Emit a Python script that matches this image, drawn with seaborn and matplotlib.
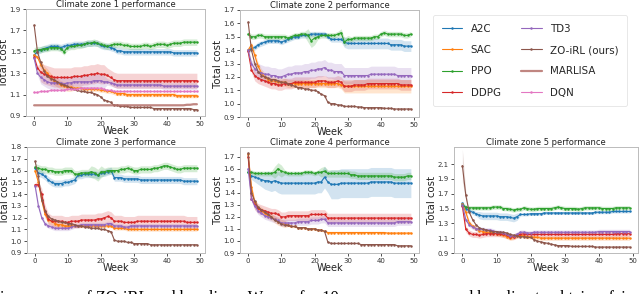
import numpy as np
import pandas as pd
import seaborn as sns
import matplotlib.pyplot as plt

weeks = list(range(50))
methods = ["A2C", "SAC", "PPO", "DDPG", "TD3", "ZO-iRL (ours)", "MARLISA", "DQN"]
colors = ["#1f77b4", "#ff7f0e", "#2ca02c", "#d62728", "#9467bd", "#8c564b", "#b5716b", "#e377c2"]

# ---- climate zone 1 ----
z1_a2c = [1.47, 1.50, 1.52, 1.53, 1.54, 1.55, 1.55, 1.55, 1.54, 1.55,
          1.56, 1.56, 1.57, 1.57, 1.57, 1.57, 1.58, 1.58, 1.58, 1.58,
          1.56, 1.55, 1.55, 1.54, 1.53, 1.51, 1.51, 1.50, 1.50, 1.50,
          1.50, 1.50, 1.50, 1.50, 1.50, 1.50, 1.50, 1.50, 1.50, 1.50,
          1.50, 1.50, 1.49, 1.49, 1.49, 1.49, 1.49, 1.49, 1.49, 1.49]
z1_sac = [1.47, 1.45, 1.38, 1.33, 1.30, 1.26, 1.23, 1.21, 1.19, 1.18,
          1.17, 1.17, 1.16, 1.16, 1.16, 1.15, 1.15, 1.15, 1.15, 1.15,
          1.14, 1.14, 1.13, 1.13, 1.12, 1.11, 1.11, 1.11, 1.10, 1.10,
          1.10, 1.10, 1.10, 1.10, 1.10, 1.10, 1.10, 1.10, 1.10, 1.10,
          1.10, 1.10, 1.10, 1.09, 1.09, 1.09, 1.09, 1.09, 1.09, 1.09]
z1_ppo = [1.51, 1.52, 1.52, 1.53, 1.53, 1.54, 1.54, 1.54, 1.53, 1.50,
          1.54, 1.55, 1.55, 1.56, 1.56, 1.57, 1.58, 1.58, 1.59, 1.58,
          1.57, 1.56, 1.55, 1.56, 1.57, 1.57, 1.57, 1.56, 1.56, 1.55,
          1.55, 1.55, 1.55, 1.56, 1.56, 1.55, 1.56, 1.57, 1.57, 1.57,
          1.56, 1.57, 1.58, 1.58, 1.58, 1.59, 1.59, 1.59, 1.59, 1.59]
z1_ddpg = [1.45, 1.35, 1.31, 1.29, 1.28, 1.27, 1.26, 1.26, 1.26, 1.26,
           1.26, 1.26, 1.27, 1.27, 1.27, 1.28, 1.28, 1.29, 1.29, 1.30,
           1.29, 1.29, 1.28, 1.26, 1.24, 1.23, 1.23, 1.23, 1.23, 1.23,
           1.23, 1.23, 1.23, 1.23, 1.23, 1.23, 1.23, 1.23, 1.23, 1.23,
           1.23, 1.23, 1.23, 1.23, 1.23, 1.23, 1.23, 1.23, 1.23, 1.23]
z1_td3 = [1.44, 1.30, 1.26, 1.24, 1.22, 1.21, 1.21, 1.21, 1.21, 1.20,
          1.21, 1.21, 1.22, 1.22, 1.22, 1.22, 1.22, 1.22, 1.23, 1.23,
          1.23, 1.22, 1.22, 1.21, 1.20, 1.19, 1.19, 1.19, 1.19, 1.19,
          1.19, 1.19, 1.19, 1.19, 1.19, 1.19, 1.19, 1.19, 1.19, 1.18,
          1.18, 1.18, 1.18, 1.18, 1.18, 1.18, 1.18, 1.18, 1.18, 1.18]
z1_zo = [1.75, 1.50, 1.40, 1.32, 1.27, 1.25, 1.24, 1.22, 1.20, 1.19,
         1.18, 1.16, 1.15, 1.14, 1.13, 1.13, 1.12, 1.12, 1.11, 1.10,
         1.08, 1.05, 1.04, 1.03, 1.00, 1.00, 0.99, 0.99, 0.99, 0.98,
         0.98, 0.98, 0.98, 0.98, 0.98, 0.98, 0.97, 0.97, 0.97, 0.97,
         0.97, 0.97, 0.97, 0.97, 0.97, 0.97, 0.97, 0.97, 0.96, 0.96]
z1_marlisa = [1.00, 1.00, 1.00, 1.00, 1.00, 1.00, 1.00, 1.00, 1.00, 1.00,
              1.00, 1.00, 1.00, 1.00, 1.00, 1.00, 1.00, 1.00, 1.00, 1.00,
              1.00, 1.00, 1.00, 1.00, 1.00, 1.00, 1.00, 1.00, 1.00, 1.00,
              1.00, 1.00, 1.00, 1.00, 1.00, 1.00, 1.00, 1.00, 1.00, 1.00,
              1.00, 1.00, 1.00, 1.00, 1.00, 1.00, 1.005, 1.005, 1.01, 1.01]
z1_dqn = [1.12, 1.12, 1.13, 1.13, 1.13, 1.14, 1.14, 1.14, 1.14, 1.14,
          1.15, 1.15, 1.15, 1.15, 1.16, 1.16, 1.16, 1.16, 1.16, 1.16,
          1.16, 1.15, 1.14, 1.14, 1.13, 1.13, 1.13, 1.13, 1.13, 1.13,
          1.13, 1.13, 1.13, 1.13, 1.13, 1.13, 1.13, 1.13, 1.13, 1.13,
          1.13, 1.13, 1.13, 1.13, 1.13, 1.13, 1.13, 1.13, 1.13, 1.13]
z1_a2c_sd = [0.03] * 50
z1_sac_sd = [0.01] * 2 + [0.04] * 10 + [0.02] * 38
z1_ppo_sd = [0.03] * 50
z1_ddpg_sd = [0.02] * 2 + [0.09] * 20 + [0.07] * 28
z1_td3_sd = [0.02] * 2 + [0.06] * 20 + [0.03] * 28
z1_zo_sd = [0.005] * 50
z1_marlisa_sd = [0.0] * 50
z1_dqn_sd = [0.008] * 50

# ---- climate zone 2 ----
z2_a2c = [1.40, 1.41, 1.42, 1.44, 1.45, 1.46, 1.47, 1.47, 1.47, 1.47,
          1.46, 1.47, 1.48, 1.49, 1.50, 1.50, 1.51, 1.51, 1.51, 1.52,
          1.52, 1.52, 1.52, 1.52, 1.50, 1.48, 1.48, 1.48, 1.48, 1.46,
          1.45, 1.45, 1.45, 1.45, 1.45, 1.45, 1.45, 1.45, 1.45, 1.45,
          1.45, 1.45, 1.45, 1.44, 1.44, 1.44, 1.44, 1.43, 1.43, 1.43]
z2_sac = [1.40, 1.44, 1.36, 1.28, 1.23, 1.20, 1.18, 1.17, 1.17, 1.16,
          1.16, 1.16, 1.15, 1.15, 1.15, 1.15, 1.15, 1.15, 1.15, 1.15,
          1.15, 1.15, 1.15, 1.15, 1.15, 1.15, 1.15, 1.15, 1.14, 1.13,
          1.13, 1.13, 1.13, 1.13, 1.13, 1.13, 1.13, 1.13, 1.13, 1.13,
          1.13, 1.13, 1.13, 1.13, 1.13, 1.13, 1.13, 1.13, 1.13, 1.13]
z2_ppo = [1.52, 1.50, 1.50, 1.51, 1.51, 1.50, 1.50, 1.50, 1.50, 1.50,
          1.50, 1.50, 1.49, 1.50, 1.51, 1.51, 1.52, 1.52, 1.51, 1.47,
          1.49, 1.50, 1.51, 1.51, 1.51, 1.51, 1.51, 1.52, 1.53, 1.46,
          1.48, 1.48, 1.49, 1.49, 1.49, 1.49, 1.49, 1.49, 1.50, 1.50,
          1.52, 1.53, 1.52, 1.52, 1.52, 1.52, 1.52, 1.51, 1.51, 1.52]
z2_ddpg = [1.39, 1.25, 1.21, 1.19, 1.18, 1.17, 1.16, 1.15, 1.15, 1.14,
           1.14, 1.15, 1.15, 1.15, 1.16, 1.16, 1.16, 1.16, 1.16, 1.16,
           1.16, 1.17, 1.17, 1.17, 1.16, 1.16, 1.16, 1.17, 1.16, 1.13,
           1.13, 1.13, 1.14, 1.14, 1.14, 1.14, 1.15, 1.15, 1.15, 1.15,
           1.15, 1.15, 1.15, 1.15, 1.15, 1.15, 1.14, 1.14, 1.14, 1.14]
z2_td3 = [1.40, 1.30, 1.26, 1.24, 1.23, 1.22, 1.22, 1.21, 1.21, 1.20,
          1.20, 1.21, 1.22, 1.22, 1.23, 1.23, 1.23, 1.24, 1.24, 1.25,
          1.25, 1.26, 1.26, 1.27, 1.25, 1.25, 1.24, 1.24, 1.24, 1.21,
          1.21, 1.21, 1.21, 1.21, 1.21, 1.21, 1.21, 1.22, 1.22, 1.22,
          1.22, 1.22, 1.22, 1.22, 1.22, 1.21, 1.21, 1.21, 1.21, 1.21]
z2_zo = [1.61, 1.40, 1.30, 1.24, 1.21, 1.20, 1.19, 1.18, 1.18, 1.17,
         1.16, 1.16, 1.15, 1.14, 1.13, 1.12, 1.12, 1.11, 1.11, 1.10,
         1.10, 1.09, 1.07, 1.06, 1.01, 1.00, 1.00, 0.99, 0.99, 0.98,
         0.98, 0.98, 0.98, 0.975, 0.975, 0.97, 0.97, 0.97, 0.97, 0.97,
         0.97, 0.965, 0.965, 0.965, 0.96, 0.96, 0.96, 0.96, 0.96, 0.96]
z2_a2c_sd = [0.02] * 29 + [0.04] * 21
z2_sac_sd = [0.02] * 2 + [0.03] * 27 + [0.05] * 21
z2_ppo_sd = [0.02] * 18 + [0.05] * 3 + [0.02] * 7 + [0.03] * 3 + [0.02] * 19
z2_ddpg_sd = [0.02] * 2 + [0.04] * 48
z2_td3_sd = [0.02] * 2 + [0.06] * 48
z2_zo_sd = [0.005] * 50

# ---- climate zone 3 ----
z3_a2c = [1.62, 1.58, 1.57, 1.55, 1.52, 1.50, 1.49, 1.49, 1.49, 1.50,
          1.50, 1.51, 1.52, 1.56, 1.56, 1.57, 1.57, 1.57, 1.57, 1.56,
          1.58, 1.58, 1.59, 1.60, 1.54, 1.54, 1.54, 1.53, 1.53, 1.53,
          1.53, 1.53, 1.52, 1.52, 1.52, 1.52, 1.52, 1.52, 1.52, 1.52,
          1.52, 1.52, 1.52, 1.52, 1.52, 1.51, 1.51, 1.51, 1.51, 1.51]
z3_sac = [1.60, 1.50, 1.35, 1.23, 1.18, 1.17, 1.15, 1.14, 1.14, 1.13,
          1.13, 1.13, 1.13, 1.13, 1.13, 1.13, 1.13, 1.13, 1.13, 1.13,
          1.13, 1.13, 1.13, 1.13, 1.11, 1.11, 1.11, 1.11, 1.10, 1.10,
          1.10, 1.10, 1.10, 1.10, 1.10, 1.10, 1.10, 1.10, 1.10, 1.10,
          1.10, 1.10, 1.10, 1.10, 1.10, 1.10, 1.10, 1.10, 1.10, 1.10]
z3_ppo = [1.63, 1.62, 1.61, 1.61, 1.60, 1.60, 1.59, 1.59, 1.59, 1.60,
          1.60, 1.60, 1.57, 1.57, 1.58, 1.58, 1.58, 1.59, 1.58, 1.56,
          1.59, 1.59, 1.60, 1.60, 1.60, 1.60, 1.61, 1.61, 1.62, 1.61,
          1.60, 1.60, 1.61, 1.61, 1.61, 1.61, 1.62, 1.62, 1.63, 1.64,
          1.64, 1.63, 1.62, 1.61, 1.61, 1.62, 1.62, 1.62, 1.62, 1.62]
z3_ddpg = [1.48, 1.48, 1.40, 1.26, 1.19, 1.17, 1.17, 1.17, 1.17, 1.16,
           1.16, 1.17, 1.17, 1.17, 1.18, 1.18, 1.18, 1.18, 1.18, 1.19,
           1.19, 1.20, 1.21, 1.20, 1.17, 1.17, 1.17, 1.16, 1.16, 1.16,
           1.16, 1.17, 1.17, 1.17, 1.17, 1.17, 1.17, 1.17, 1.17, 1.17,
           1.17, 1.17, 1.17, 1.17, 1.17, 1.17, 1.16, 1.16, 1.16, 1.16]
z3_td3 = [1.47, 1.30, 1.20, 1.15, 1.13, 1.12, 1.11, 1.11, 1.11, 1.11,
          1.11, 1.12, 1.13, 1.13, 1.14, 1.14, 1.14, 1.14, 1.14, 1.14,
          1.14, 1.14, 1.15, 1.15, 1.13, 1.13, 1.13, 1.12, 1.12, 1.13,
          1.13, 1.13, 1.13, 1.13, 1.13, 1.13, 1.13, 1.13, 1.13, 1.13,
          1.13, 1.13, 1.13, 1.13, 1.13, 1.13, 1.13, 1.13, 1.13, 1.13]
z3_zo = [1.68, 1.55, 1.35, 1.26, 1.21, 1.19, 1.18, 1.17, 1.16, 1.16,
         1.15, 1.15, 1.14, 1.13, 1.13, 1.12, 1.12, 1.11, 1.11, 1.11,
         1.10, 1.10, 1.09, 1.08, 1.01, 1.00, 1.00, 1.00, 0.99, 0.99,
         0.98, 0.98, 0.98, 0.98, 0.98, 0.97, 0.97, 0.97, 0.97, 0.97,
         0.97, 0.97, 0.97, 0.97, 0.97, 0.97, 0.97, 0.97, 0.97, 0.97]
z3_a2c_sd = [0.03] * 50
z3_sac_sd = [0.02] * 2 + [0.03] * 8 + [0.015] * 40
z3_ppo_sd = [0.03] * 17 + [0.05] * 4 + [0.03] * 29
z3_ddpg_sd = [0.02] * 2 + [0.05] * 48
z3_td3_sd = [0.02] * 50
z3_zo_sd = [0.005] * 50

# ---- climate zone 4 ----
z4_a2c = [1.57, 1.54, 1.53, 1.52, 1.51, 1.50, 1.50, 1.49, 1.50, 1.49,
          1.48, 1.48, 1.48, 1.48, 1.48, 1.48, 1.48, 1.48, 1.48, 1.48,
          1.48, 1.49, 1.49, 1.53, 1.49, 1.47, 1.47, 1.47, 1.48, 1.48,
          1.48, 1.48, 1.48, 1.48, 1.48, 1.48, 1.48, 1.49, 1.49, 1.49,
          1.49, 1.49, 1.49, 1.49, 1.48, 1.48, 1.48, 1.48, 1.48, 1.48]
z4_sac = [1.72, 1.45, 1.32, 1.27, 1.25, 1.23, 1.21, 1.20, 1.18, 1.16,
          1.15, 1.14, 1.13, 1.12, 1.12, 1.11, 1.11, 1.11, 1.10, 1.10,
          1.10, 1.09, 1.09, 1.08, 1.07, 1.07, 1.07, 1.07, 1.07, 1.07,
          1.07, 1.07, 1.07, 1.07, 1.07, 1.07, 1.07, 1.07, 1.07, 1.07,
          1.07, 1.07, 1.065, 1.065, 1.065, 1.065, 1.065, 1.065, 1.065, 1.065]
z4_ppo = [1.57, 1.57, 1.56, 1.56, 1.56, 1.56, 1.56, 1.56, 1.57, 1.60,
          1.58, 1.57, 1.56, 1.56, 1.56, 1.56, 1.56, 1.57, 1.57, 1.57,
          1.56, 1.57, 1.57, 1.58, 1.56, 1.56, 1.56, 1.56, 1.56, 1.56,
          1.56, 1.55, 1.55, 1.54, 1.54, 1.54, 1.54, 1.54, 1.54, 1.54,
          1.54, 1.54, 1.54, 1.54, 1.53, 1.53, 1.53, 1.53, 1.54, 1.54]
z4_ddpg = [1.70, 1.35, 1.30, 1.27, 1.26, 1.25, 1.24, 1.23, 1.23, 1.22,
           1.20, 1.20, 1.21, 1.21, 1.21, 1.21, 1.21, 1.21, 1.21, 1.22,
           1.22, 1.22, 1.22, 1.22, 1.19, 1.19, 1.19, 1.19, 1.19, 1.19,
           1.19, 1.19, 1.19, 1.19, 1.19, 1.19, 1.19, 1.19, 1.19, 1.19,
           1.19, 1.19, 1.19, 1.19, 1.19, 1.19, 1.19, 1.19, 1.19, 1.19]
z4_td3 = [1.60, 1.35, 1.29, 1.25, 1.23, 1.21, 1.20, 1.19, 1.18, 1.17,
          1.15, 1.15, 1.15, 1.15, 1.15, 1.16, 1.16, 1.16, 1.16, 1.17,
          1.17, 1.17, 1.18, 1.18, 1.15, 1.15, 1.15, 1.15, 1.15, 1.15,
          1.15, 1.15, 1.15, 1.15, 1.15, 1.15, 1.15, 1.15, 1.15, 1.15,
          1.15, 1.15, 1.15, 1.15, 1.15, 1.16, 1.16, 1.16, 1.16, 1.16]
z4_zo = [1.73, 1.40, 1.33, 1.28, 1.26, 1.24, 1.22, 1.20, 1.17, 1.16,
         1.14, 1.13, 1.13, 1.12, 1.12, 1.11, 1.11, 1.11, 1.10, 1.10,
         1.10, 1.09, 1.09, 1.08, 0.99, 0.98, 0.98, 0.98, 0.98, 0.98,
         0.98, 0.98, 0.98, 0.98, 0.97, 0.97, 0.97, 0.97, 0.97, 0.97,
         0.97, 0.97, 0.97, 0.97, 0.97, 0.96, 0.96, 0.96, 0.96, 0.96]
z4_a2c_sd = [0.02, 0.03, 0.04, 0.05, 0.06, 0.07, 0.08, 0.08, 0.08, 0.09] + [0.09] * 15 + [0.12] * 25
z4_sac_sd = [0.02] * 2 + [0.03] * 10 + [0.01] * 38
z4_ppo_sd = [0.02] * 8 + [0.05] * 3 + [0.02] * 11 + [0.04] * 2 + [0.03] * 26
z4_ddpg_sd = [0.02] * 2 + [0.04] * 48
z4_td3_sd = [0.02] * 2 + [0.03] * 48
z4_zo_sd = [0.02] * 2 + [0.005] * 48

# ---- climate zone 5 ----
z5_a2c = [1.57, 1.50, 1.47, 1.45, 1.43, 1.41, 1.40, 1.40, 1.40, 1.40,
          1.40, 1.39, 1.39, 1.39, 1.38, 1.37, 1.39, 1.42, 1.42, 1.42,
          1.43, 1.43, 1.43, 1.43, 1.44, 1.44, 1.44, 1.44, 1.44, 1.44,
          1.44, 1.44, 1.44, 1.44, 1.44, 1.44, 1.44, 1.44, 1.44, 1.45,
          1.45, 1.45, 1.45, 1.45, 1.46, 1.46, 1.46, 1.46, 1.46, 1.46]
z5_sac = [1.56, 1.45, 1.31, 1.26, 1.23, 1.20, 1.19, 1.18, 1.18, 1.17,
          1.16, 1.15, 1.14, 1.12, 1.10, 1.11, 1.13, 1.14, 1.13, 1.12,
          1.12, 1.11, 1.11, 1.10, 1.10, 1.10, 1.10, 1.10, 1.10, 1.10,
          1.10, 1.10, 1.10, 1.10, 1.10, 1.10, 1.10, 1.10, 1.10, 1.10,
          1.10, 1.10, 1.10, 1.10, 1.10, 1.10, 1.10, 1.10, 1.10, 1.10]
z5_ppo = [1.55, 1.52, 1.51, 1.51, 1.51, 1.51, 1.51, 1.51, 1.51, 1.52,
          1.52, 1.52, 1.50, 1.50, 1.49, 1.48, 1.49, 1.49, 1.51, 1.50,
          1.49, 1.49, 1.50, 1.50, 1.50, 1.50, 1.50, 1.51, 1.52, 1.51,
          1.50, 1.50, 1.50, 1.50, 1.49, 1.50, 1.51, 1.51, 1.51, 1.51,
          1.51, 1.50, 1.50, 1.50, 1.50, 1.51, 1.51, 1.51, 1.51, 1.51]
z5_ddpg = [1.53, 1.22, 1.17, 1.15, 1.15, 1.14, 1.15, 1.16, 1.16, 1.16,
           1.16, 1.16, 1.15, 1.14, 1.12, 1.12, 1.14, 1.15, 1.16, 1.15,
           1.15, 1.15, 1.15, 1.15, 1.15, 1.15, 1.15, 1.15, 1.15, 1.15,
           1.15, 1.15, 1.15, 1.15, 1.15, 1.15, 1.15, 1.15, 1.15, 1.15,
           1.15, 1.15, 1.15, 1.15, 1.15, 1.16, 1.16, 1.16, 1.16, 1.16]
z5_td3 = [1.55, 1.35, 1.28, 1.25, 1.23, 1.22, 1.22, 1.21, 1.21, 1.20,
          1.18, 1.18, 1.17, 1.15, 1.13, 1.13, 1.15, 1.18, 1.18, 1.17,
          1.17, 1.18, 1.18, 1.18, 1.18, 1.18, 1.18, 1.18, 1.18, 1.18,
          1.18, 1.18, 1.18, 1.18, 1.18, 1.18, 1.18, 1.18, 1.18, 1.18,
          1.19, 1.19, 1.19, 1.19, 1.19, 1.19, 1.19, 1.19, 1.19, 1.19]
z5_zo = [2.08, 1.68, 1.45, 1.35, 1.28, 1.24, 1.22, 1.21, 1.20, 1.19,
         1.19, 1.18, 1.18, 1.17, 1.15, 1.14, 1.13, 1.12, 1.12, 1.11,
         1.11, 1.08, 1.06, 1.05, 1.04, 1.03, 1.02, 1.01, 1.00, 1.00,
         1.00, 1.00, 0.99, 0.99, 0.99, 0.99, 0.99, 0.99, 0.99, 0.98,
         0.98, 0.98, 0.98, 0.98, 0.98, 0.98, 0.98, 0.98, 0.98, 0.98]
z5_a2c_sd = [0.03] * 5 + [0.05] * 12 + [0.02] * 33
z5_sac_sd = [0.03] * 50
z5_ppo_sd = [0.03] * 50
z5_ddpg_sd = [0.04] * 50
z5_td3_sd = [0.03] * 50
z5_zo_sd = [0.22, 0.05] + [0.01] * 48

caption = ("ison curves of ZO-iRL and baselines. We run for 10 runs over "
           "zones and baseline to obtain a fair")


def zone(a2c, sac, ppo, ddpg, td3, zo, marlisa=None, dqn=None):
    rows = list(zip(methods, [a2c, sac, ppo, ddpg, td3, zo, marlisa, dqn], colors))
    return [r for r in rows if r[1] is not None]


zones = [
    ("Climate zone 1 performance",
     zone((z1_a2c, z1_a2c_sd), (z1_sac, z1_sac_sd), (z1_ppo, z1_ppo_sd), (z1_ddpg, z1_ddpg_sd),
          (z1_td3, z1_td3_sd), (z1_zo, z1_zo_sd), (z1_marlisa, z1_marlisa_sd), (z1_dqn, z1_dqn_sd)),
     (0.9, 1.9), np.arange(0.9, 1.95, 0.2), (26, 205, 9, 116)),
    ("Climate zone 2 performance",
     zone((z2_a2c, z2_a2c_sd), (z2_sac, z2_sac_sd), (z2_ppo, z2_ppo_sd), (z2_ddpg, z2_ddpg_sd),
          (z2_td3, z2_td3_sd), (z2_zo, z2_zo_sd)),
     (0.9, 1.7), np.arange(0.9, 1.75, 0.1), (240, 419, 10, 117)),
    ("Climate zone 3 performance",
     zone((z3_a2c, z3_a2c_sd), (z3_sac, z3_sac_sd), (z3_ppo, z3_ppo_sd), (z3_ddpg, z3_ddpg_sd),
          (z3_td3, z3_td3_sd), (z3_zo, z3_zo_sd)),
     (0.9, 1.8), np.arange(0.9, 1.85, 0.1), (27, 205, 147, 253)),
    ("Climate zone 4 performance",
     zone((z4_a2c, z4_a2c_sd), (z4_sac, z4_sac_sd), (z4_ppo, z4_ppo_sd), (z4_ddpg, z4_ddpg_sd),
          (z4_td3, z4_td3_sd), (z4_zo, z4_zo_sd)),
     (0.9, 1.78), np.arange(0.9, 1.75, 0.1), (240, 419, 147, 253)),
    ("Climate zone 5 performance",
     zone((z5_a2c, z5_a2c_sd), (z5_sac, z5_sac_sd), (z5_ppo, z5_ppo_sd), (z5_ddpg, z5_ddpg_sd),
          (z5_td3, z5_td3_sd), (z5_zo, z5_zo_sd)),
     (0.9, 2.33), np.arange(0.9, 2.15, 0.2), (454, 638, 147, 253)),
]

sns.set_style("ticks")
plt.rcParams['font.family'] = ['DejaVu Sans']

W, H = 640, 294
fig = plt.figure(figsize=(W / 100, H / 100), dpi=100)

handles = {}
for title, series, ylim, yticks, (l, r, t, b) in zones:
    ax = fig.add_axes([l / W, 1 - b / H, (r - l) / W, (b - t) / H])
    for name, (mean, sd), c in series:
        df = pd.DataFrame({"Week": weeks, "Total cost": mean})
        if name == "MARLISA":
            sns.lineplot(data=df, x="Week", y="Total cost", color=c, lw=1.6, alpha=0.85, ax=ax)
        else:
            sns.lineplot(data=df, x="Week", y="Total cost", color=c, lw=0.8,
                         marker="o", markersize=1.8, markeredgewidth=0, ax=ax)
            lo = np.array(mean) - np.array(sd)
            hi = np.array(mean) + np.array(sd)
            ax.fill_between(weeks, lo, hi, color=c, alpha=0.2, lw=0)
        handles[name] = ax.lines[-1]
    ax.set_xlim(-2.45, 51.45)
    ax.set_ylim(*ylim)
    ax.set_xticks([0, 10, 20, 30, 40, 50])
    ax.set_yticks(np.round(yticks, 1))
    ax.tick_params(labelsize=5, length=2.5, width=0.6, pad=1.2, colors="#333333")
    for s in ax.spines.values():
        s.set_color("#bbbbbb")
        s.set_linewidth(0.7)
    ax.set_title(title, fontsize=6, pad=1.2, color="#222222")
    ax.set_xlabel("Week", fontsize=7, labelpad=-0.5, color="#222222")
    ax.set_ylabel("Total cost", fontsize=7.3, labelpad=0.5, color="#222222")

leg = fig.legend([handles[m] for m in methods], methods, loc="upper left",
                 bbox_to_anchor=(433 / W, 1 - 15 / H), ncol=2, fontsize=7.4,
                 frameon=True, handlelength=2.0, handletextpad=0.8, columnspacing=2.0,
                 labelspacing=1.1, borderpad=0.85, borderaxespad=0)
leg.get_frame().set_edgecolor("#dddddd")
leg.get_frame().set_linewidth(0.6)

fig.text(0.0, -8 / H, caption, fontsize=11.8, family=["Liberation Serif"],
         va="baseline", ha="left", color="black")

fig.savefig("out.png", dpi=100)
